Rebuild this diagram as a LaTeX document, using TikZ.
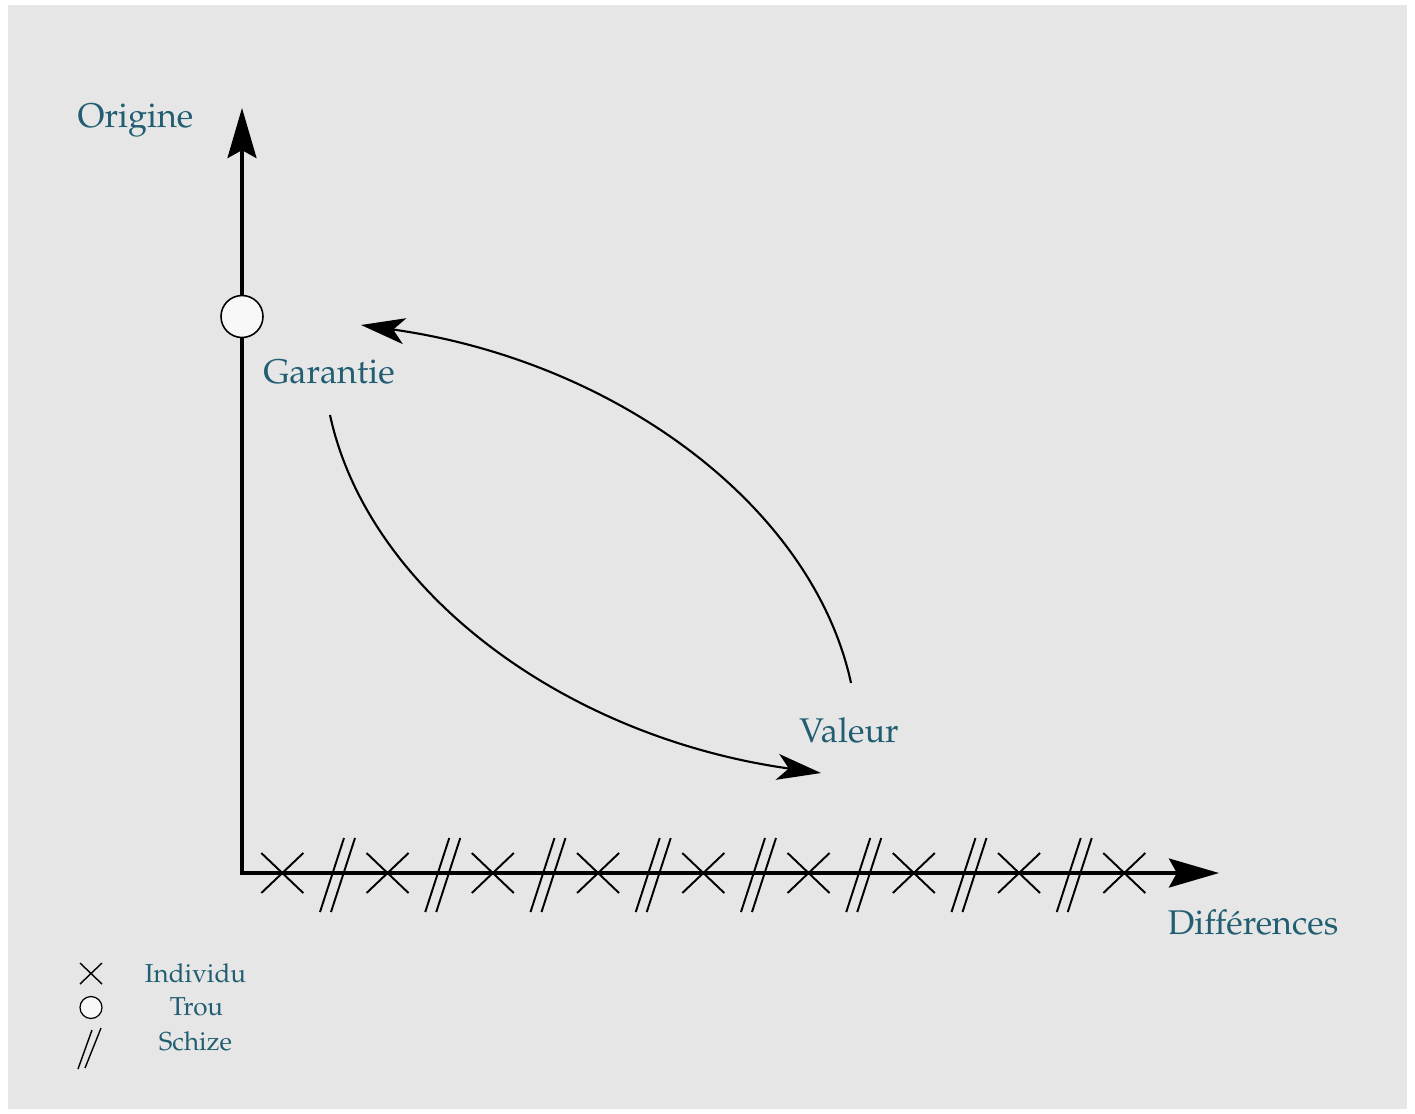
\documentclass[tikz,border=0pt]{standalone}
\usepackage[T1]{fontenc}
\usepackage{mathpazo}
\usetikzlibrary{arrows.meta}
\definecolor{bggrey}{RGB}{230,230,230}
\definecolor{labelteal}{RGB}{33,94,114}
\definecolor{holefill}{RGB}{248,248,248}
\begin{document}
\begin{tikzpicture}[x=0.02cm,y=-0.02cm,
  axisline/.style={line width=1.9pt, line join=miter,
    {Stealth[length=28.5pt,width=16.5pt,inset=4.5pt]}-{Stealth[length=28.5pt,width=16.5pt,inset=4.5pt]}},
  flowline/.style={line width=1.2pt, -{Stealth[length=25pt,width=14.8pt,inset=6.5pt]}},
  mainlabel/.style={text=labelteal, font=\fontsize{19.5}{23}\selectfont, inner sep=0pt, anchor=base},
  keylabel/.style={text=labelteal, font=\fontsize{14.8}{18}\selectfont, inner sep=0pt, anchor=base},
  hole/.style={circle, draw=black, line width=0.9pt, fill=holefill, inner sep=0pt, minimum size=0.84cm},
  keyhole/.style={circle, draw=black, line width=0.7pt, fill=holefill, inner sep=0pt, minimum size=0.44cm},
  indiv/.style={line width=1.1pt},
  schizeline/.style={line width=1.1pt},
  keymark/.style={line width=0.8pt}
]
% page and panel
\useasboundingbox (0,0) rectangle (1415,1113);
\fill[bggrey] (8,5) rectangle (1407,1109);

% axes
\coordinate (O) at (242,873);
\coordinate (ytip) at (242,108);
\coordinate (xtip) at (1219,873);
\draw[axisline] (ytip) -- (O) -- (xtip);

% individuals and schizes along the differences axis
\foreach \k in {0,...,8}{
  \pgfmathsetmacro{\cx}{282.3+105.25*\k}
  \draw[indiv] (\cx-21,853) -- (\cx+21,893) (\cx-21,893) -- (\cx+21,853);
}
\foreach \k in {0,...,7}{
  \pgfmathsetmacro{\sx}{338.5+105.25*\k}
  \draw[schizeline] (\sx-5.5-13,912) -- (\sx-5.5+11,838)
                    (\sx+5.5-13,912) -- (\sx+5.5+11,838);
}

% the hole on the origin axis
\node[hole] (trou) at (242,316.5) {};

% labels
\node[mainlabel] (origine) at (135.5,127) {Origine};
\node[mainlabel] (garantie) at (329,383) {Garantie};
\node[mainlabel] (valeur) at (849,742) {Valeur};
\node[mainlabel] (differences) at (1253,934) {Diff\'erences};

% exchange between guarantee and value
\coordinate (gstart) at (330,415);
\coordinate (vend) at (821,773);
\coordinate (vstart) at (851,683);
\coordinate (gend) at (361,325);
\draw[flowline] (gstart) .. controls (368,591) and (564,737) .. (vend);
\draw[flowline] (vstart) .. controls (813,507) and (617,361) .. (gend);

% key
\draw[keymark] (80,963) -- (102,984) (80,984) -- (102,963);
\node[keyhole] (keytrou) at (91,1007.5) {};
\draw[keymark] (78,1069) -- (92,1030) (85,1068) -- (101,1028);
\node[keylabel] (kindividu) at (195.5,982) {Individu};
\node[keylabel] (ktrou) at (196.5,1015) {Trou};
\node[keylabel] (kschize) at (195.5,1050) {Schize};
\end{tikzpicture}
\end{document}
